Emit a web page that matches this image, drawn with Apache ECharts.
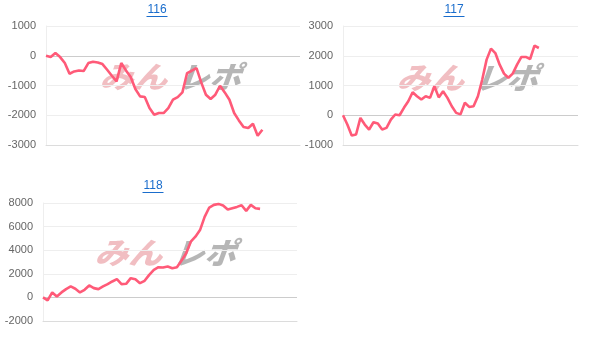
<!DOCTYPE html>
<html>
<head>
<meta charset="utf-8">
<script src="https://cdn.jsdelivr.net/npm/echarts@6/dist/echarts.min.js"></script>
<style>
html,body{margin:0;padding:0;background:#fff;}
#c{width:609px;height:341px;}
</style>
</head>
<body>
<div id="c"></div>
<script>
const titles = ['116', '117', '118'];
const days = Array.from({length: 56}, (_, i) => String(i + 1));
const s116 = [0, -45, 90, -45, -246, -605, -526, -493, -515, -246, -202, -224, -280, -470, -672, -862,
  -246, -493, -717, -1120, -1366, -1389, -1758, -1982, -1926, -1926, -1758, -1478, -1389, -1232,
  -582, -504, -414, -896, -1310, -1456, -1310, -1008, -1232, -1478, -1926, -2173, -2397, -2430,
  -2285, -2688, -2486];
const s117 = [0, -313, -682, -648, -90, -313, -480, -235, -280, -480, -425, -145, 25, 0, 250, 470,
  773, 640, 527, 640, 584, 975, 600, 806, 584, 302, 80, 30, 420, 280, 300, 640, 1200, 1870, 2240,
  2090, 1700, 1400, 1260, 1400, 1700, 1960, 1960, 1890, 2340, 2260];
const s118 = [0, -253, 422, 84, 422, 703, 927, 731, 422, 646, 1012, 787, 703, 927, 1124, 1349, 1546,
  1124, 1152, 1630, 1546, 1208, 1405, 1911, 2332, 2557, 2529, 2613, 2473, 2557, 3119, 3737, 4721,
  5142, 5704, 6828, 7615, 7840, 7924, 7784, 7447, 7559, 7671, 7812, 7334, 7840, 7559, 7503];
const yMin = [-3000, -1000, -2000];
const yMax = [1000, 3000, 8000];
const yStep = [1000, 1000, 2000];
const catCount = [55, 55, 56];

const seriesData = [s116, s117, s118];
const grids = [
  {left: 46, right: 309, top: 26, bottom: 196},
  {left: 343, right: 31, top: 26, bottom: 196},
  {left: 43, right: 312, top: 203, bottom: 20}
];
const titlePos = [[157, 4], [454, 4], [153, 180]];
const wmPos = [[177, 78], [474, 79], [172, 254]];
const lineColor = '#ff5a78';

const chart = echarts.init(document.getElementById('c'), null, {renderer: 'canvas'});

const graphic = [];
titles.forEach((t, i) => {
  const [x, y] = titlePos[i];
  graphic.push({type: 'rect', left: x - 10.5, top: y + 12, shape: {width: 21, height: 1}, style: {fill: '#1a6dcc'}, silent: true, z: 10});
  const [wx, wy] = wmPos[i];
  graphic.push({type: 'text', x: wx - 68, y: wy - 16, z: 0, silent: true, skewX: -0.35, scaleX: 1.12,
    style: {text: 'みん', fill: 'rgba(215,75,85,0.36)', font: '900 30px "Noto Sans CJK JP"'}});
  graphic.push({type: 'text', x: wx + 10, y: wy - 16, z: 0, silent: true, skewX: -0.35, scaleX: 1.05,
    style: {text: 'レポ', fill: 'rgba(110,110,110,0.5)', font: '900 30px "Noto Sans CJK JP"'}});
});

const option = {
  animation: false,
  backgroundColor: '#fff',
  title: titles.map((t, i) => ({
    text: t, left: titlePos[i][0], top: titlePos[i][1], textAlign: 'center', padding: 0,
    textStyle: {color: '#1a6dcc', fontSize: 12, fontWeight: 'normal', fontFamily: 'Liberation Sans, Arial, sans-serif'}
  })),
  grid: grids,
  xAxis: grids.map((g, i) => ({
    type: 'category', gridIndex: i, data: days.slice(0, catCount[i]), boundaryGap: false,
    axisLine: {show: true, onZero: false, lineStyle: {color: '#dcdcdc'}},
    axisTick: {show: false}, axisLabel: {show: false}, splitLine: {show: false}
  })),
  yAxis: grids.map((g, i) => ({
    type: 'value', gridIndex: i, min: yMin[i], max: yMax[i], interval: yStep[i],
    axisLine: {show: true, lineStyle: {color: '#eeeeee'}},
    axisTick: {show: false},
    axisLabel: {color: '#666', fontSize: 11, margin: 10, fontFamily: 'Liberation Sans, Arial, sans-serif',
      formatter: v => String(v)},
    splitLine: {show: true, lineStyle: {color: '#eeeeee'}}
  })),
  series: seriesData.map((d, i) => ({
    type: 'line', xAxisIndex: i, yAxisIndex: i, data: d, symbol: 'none', z: 5,
    lineStyle: {color: lineColor, width: 2.6},
    markLine: {silent: true, symbol: 'none', label: {show: false},
      lineStyle: {color: '#cccccc', type: 'solid', width: 1}, data: [{yAxis: 0}], z: 1}
  })),
  graphic: graphic
};
chart.setOption(option);
</script>
</body>
</html>
